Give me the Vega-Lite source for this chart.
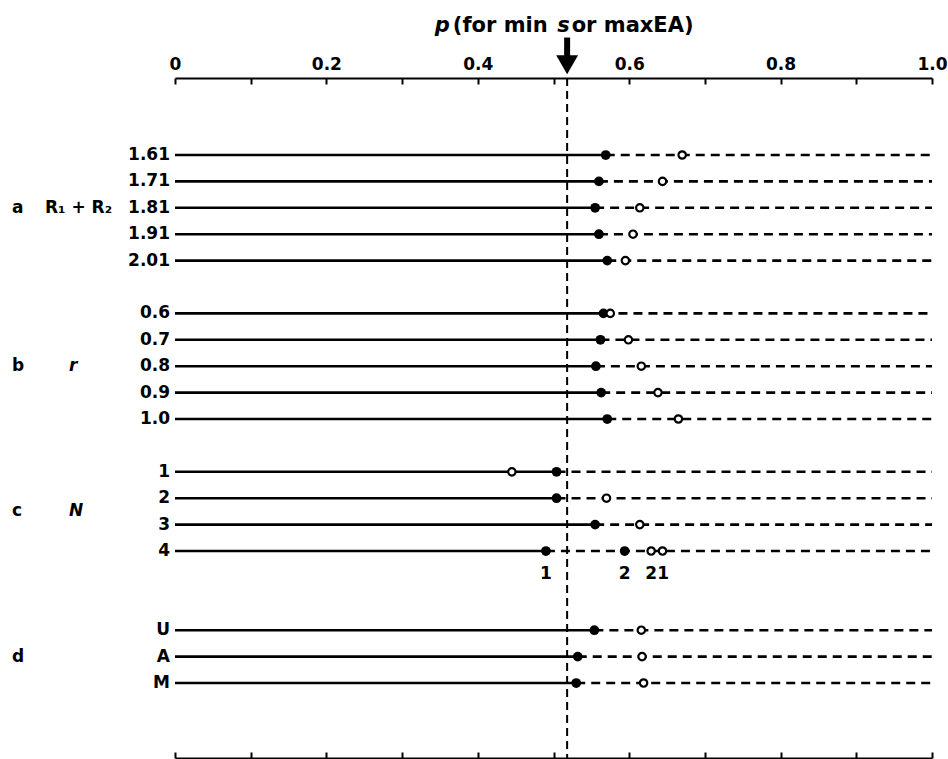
{
  "$schema": "https://vega.github.io/schema/vega-lite/v6.json",
  "width": 757,
  "height": 680,
  "autosize": {"type": "none"},
  "padding": {"left": 175, "top": 78, "right": 16, "bottom": 1},
  "background": "white",
  "config": {"view": {"stroke": null}, "font": "DejaVu Sans", "text": {"font": "DejaVu Sans", "fontWeight": "bold"}},
  "data": {"values": [{"item": "annotation"}]},
  "datasets": {
    "rows": [
      {"group": "a", "label": "1.61", "row": 0, "solid_end": 0.569},
      {"group": "a", "label": "1.71", "row": 1, "solid_end": 0.560},
      {"group": "a", "label": "1.81", "row": 2, "solid_end": 0.555},
      {"group": "a", "label": "1.91", "row": 3, "solid_end": 0.560},
      {"group": "a", "label": "2.01", "row": 4, "solid_end": 0.571},
      {"group": "b", "label": "0.6", "row": 6, "solid_end": 0.566},
      {"group": "b", "label": "0.7", "row": 7, "solid_end": 0.562},
      {"group": "b", "label": "0.8", "row": 8, "solid_end": 0.556},
      {"group": "b", "label": "0.9", "row": 9, "solid_end": 0.563},
      {"group": "b", "label": "1.0", "row": 10, "solid_end": 0.571},
      {"group": "c", "label": "1", "row": 12, "solid_end": 0.504},
      {"group": "c", "label": "2", "row": 13, "solid_end": 0.504},
      {"group": "c", "label": "3", "row": 14, "solid_end": 0.555},
      {"group": "c", "label": "4", "row": 15, "solid_end": 0.490},
      {"group": "d", "label": "U", "row": 18, "solid_end": 0.554},
      {"group": "d", "label": "A", "row": 19, "solid_end": 0.532},
      {"group": "d", "label": "M", "row": 20, "solid_end": 0.530}
    ],
    "filled": [
      {"row": 0, "p": 0.569}, {"row": 1, "p": 0.560}, {"row": 2, "p": 0.555}, {"row": 3, "p": 0.560}, {"row": 4, "p": 0.571},
      {"row": 6, "p": 0.566}, {"row": 7, "p": 0.562}, {"row": 8, "p": 0.556}, {"row": 9, "p": 0.563}, {"row": 10, "p": 0.571},
      {"row": 12, "p": 0.504}, {"row": 13, "p": 0.504}, {"row": 14, "p": 0.555}, {"row": 15, "p": 0.490}, {"row": 15, "p": 0.594},
      {"row": 18, "p": 0.554}, {"row": 19, "p": 0.532}, {"row": 20, "p": 0.530}
    ],
    "open": [
      {"row": 0, "p": 0.670}, {"row": 1, "p": 0.644}, {"row": 2, "p": 0.614}, {"row": 3, "p": 0.605}, {"row": 4, "p": 0.595},
      {"row": 6, "p": 0.575}, {"row": 7, "p": 0.599}, {"row": 8, "p": 0.616}, {"row": 9, "p": 0.638}, {"row": 10, "p": 0.665},
      {"row": 12, "p": 0.445}, {"row": 13, "p": 0.570}, {"row": 14, "p": 0.614}, {"row": 15, "p": 0.629}, {"row": 15, "p": 0.644},
      {"row": 18, "p": 0.616}, {"row": 19, "p": 0.617}, {"row": 20, "p": 0.619}
    ],
    "marklabels": [
      {"row": 15, "p": 0.490, "text": "1"},
      {"row": 15, "p": 0.594, "text": "2"},
      {"row": 15, "p": 0.629, "text": "2"},
      {"row": 15, "p": 0.645, "text": "1"}
    ],
    "groups": [
      {"row": 2, "letter": "a", "name": "R₁ + R₂", "italic": false},
      {"row": 8, "letter": "b", "name": "r", "italic": true},
      {"row": 13.5, "letter": "c", "name": "N", "italic": true},
      {"row": 19, "letter": "d", "name": "", "italic": false}
    ]
  },
  "resolve": {"axis": {"x": "independent"}},
  "layer": [
    {
      "data": {"name": "rows"},
      "mark": {"type": "rule", "strokeWidth": 2.6, "color": "black"},
      "encoding": {
        "x": {"field": "solid_end", "type": "quantitative",
          "scale": {"domain": [0, 1], "nice": false, "zero": false},
          "axis": {"orient": "top", "title": null, "values": [0, 0.1, 0.2, 0.3, 0.4, 0.5, 0.6, 0.7, 0.8, 0.9, 1.0],
            "labelExpr": "datum.value == 0 ? '0' : (round(datum.value*10) % 2 == 0 ? format(datum.value, '.1f') : '')",
            "domainColor": "black", "domainWidth": 2, "tickColor": "black", "tickWidth": 2, "tickSize": -6,
            "labelFont": "DejaVu Sans", "labelFontWeight": "bold", "labelFontSize": 17, "labelColor": "black", "labelPadding": 11, "grid": false, "labelFlush": false, "labelOverlap": false}},
        "x2": {"datum": 0},
        "y": {"field": "row", "type": "quantitative",
          "scale": {"domain": [-2.917, 22.84], "reverse": true, "nice": false, "zero": false}, "axis": null}
      }
    },
    {
      "data": {"name": "rows"},
      "mark": {"type": "rule", "strokeWidth": 2.6, "color": "black", "strokeDash": [9, 6]},
      "encoding": {
        "x": {"field": "solid_end", "type": "quantitative",
          "axis": {"orient": "bottom", "title": null, "values": [0, 0.1, 0.2, 0.3, 0.4, 0.5, 0.6, 0.7, 0.8, 0.9, 1.0],
            "labels": false, "domainColor": "black", "domainWidth": 2, "tickColor": "black", "tickWidth": 2, "tickSize": -6, "grid": false}},
        "x2": {"datum": 1},
        "y": {"field": "row", "type": "quantitative", "axis": null}
      }
    },
    {
      "mark": {"type": "rule", "strokeWidth": 2, "color": "black", "strokeDash": [8, 5]},
      "encoding": {"x": {"datum": 0.518, "type": "quantitative", "axis": null}}
    },
    {
      "mark": {"type": "rule", "strokeWidth": 6, "color": "black"},
      "encoding": {
        "x": {"datum": 0.518, "type": "quantitative", "axis": null},
        "y": {"datum": -4.45, "type": "quantitative", "axis": null},
        "y2": {"datum": -3.6}
      }
    },
    {
      "mark": {"type": "point", "shape": "triangle-down", "filled": true, "color": "black", "size": 480, "opacity": 1},
      "encoding": {
        "x": {"datum": 0.518, "type": "quantitative", "axis": null},
        "y": {"datum": -3.42, "type": "quantitative", "axis": null}
      }
    },
    {
      "data": {"name": "filled"},
      "mark": {"type": "point", "filled": true, "color": "black", "size": 95, "opacity": 1},
      "encoding": {
        "x": {"field": "p", "type": "quantitative", "axis": null},
        "y": {"field": "row", "type": "quantitative", "axis": null}
      }
    },
    {
      "data": {"name": "open"},
      "mark": {"type": "point", "filled": false, "fill": "white", "stroke": "black", "strokeWidth": 2.2, "size": 55, "opacity": 1},
      "encoding": {
        "x": {"field": "p", "type": "quantitative", "axis": null},
        "y": {"field": "row", "type": "quantitative", "axis": null}
      }
    },
    {
      "data": {"name": "rows"},
      "mark": {"type": "text", "align": "right", "baseline": "middle", "dx": -5, "fontSize": 17, "color": "black"},
      "encoding": {
        "x": {"datum": 0, "type": "quantitative", "axis": null},
        "y": {"field": "row", "type": "quantitative", "axis": null},
        "text": {"field": "label"}
      }
    },
    {
      "data": {"name": "marklabels"},
      "mark": {"type": "text", "align": "center", "baseline": "middle", "dy": 23, "fontSize": 17, "color": "black"},
      "encoding": {
        "x": {"field": "p", "type": "quantitative", "axis": null},
        "y": {"field": "row", "type": "quantitative", "axis": null},
        "text": {"field": "text"}
      }
    },
    {
      "data": {"name": "groups"},
      "mark": {"type": "text", "align": "left", "baseline": "middle", "dx": -163, "fontSize": 17, "color": "black"},
      "encoding": {
        "x": {"datum": 0, "type": "quantitative", "axis": null},
        "y": {"field": "row", "type": "quantitative", "axis": null},
        "text": {"field": "letter"}
      }
    },
    {
      "data": {"name": "groups"},
      "transform": [{"filter": "!datum.italic"}],
      "mark": {"type": "text", "align": "left", "baseline": "middle", "dx": -130, "fontSize": 17, "color": "black"},
      "encoding": {
        "x": {"datum": 0, "type": "quantitative", "axis": null},
        "y": {"field": "row", "type": "quantitative", "axis": null},
        "text": {"field": "name"}
      }
    },
    {
      "data": {"name": "groups"},
      "transform": [{"filter": "datum.italic"}],
      "mark": {"type": "text", "align": "left", "baseline": "middle", "dx": -106, "fontSize": 17, "fontStyle": "italic", "color": "black"},
      "encoding": {
        "x": {"datum": 0, "type": "quantitative", "axis": null},
        "y": {"field": "row", "type": "quantitative", "axis": null},
        "text": {"field": "name"}
      }
    },
    {
      "mark": {"type": "text", "align": "left", "baseline": "alphabetic", "fontSize": 21, "fontStyle": "italic", "color": "black"},
      "encoding": {
        "x": {"datum": 0.343, "type": "quantitative", "axis": null},
        "y": {"datum": -4.66, "type": "quantitative", "axis": null},
        "text": {"value": "p"}
      }
    },
    {
      "mark": {"type": "text", "align": "left", "baseline": "alphabetic", "fontSize": 21, "color": "black"},
      "encoding": {
        "x": {"datum": 0.367, "type": "quantitative", "axis": null},
        "y": {"datum": -4.66, "type": "quantitative", "axis": null},
        "text": {"value": "(for min"}
      }
    },
    {
      "mark": {"type": "text", "align": "left", "baseline": "alphabetic", "fontSize": 21, "fontStyle": "italic", "color": "black"},
      "encoding": {
        "x": {"datum": 0.505, "type": "quantitative", "axis": null},
        "y": {"datum": -4.66, "type": "quantitative", "axis": null},
        "text": {"value": "s"}
      }
    },
    {
      "mark": {"type": "text", "align": "left", "baseline": "alphabetic", "fontSize": 21, "color": "black"},
      "encoding": {
        "x": {"datum": 0.524, "type": "quantitative", "axis": null},
        "y": {"datum": -4.66, "type": "quantitative", "axis": null},
        "text": {"value": "or maxEA)"}
      }
    }
  ]
}
